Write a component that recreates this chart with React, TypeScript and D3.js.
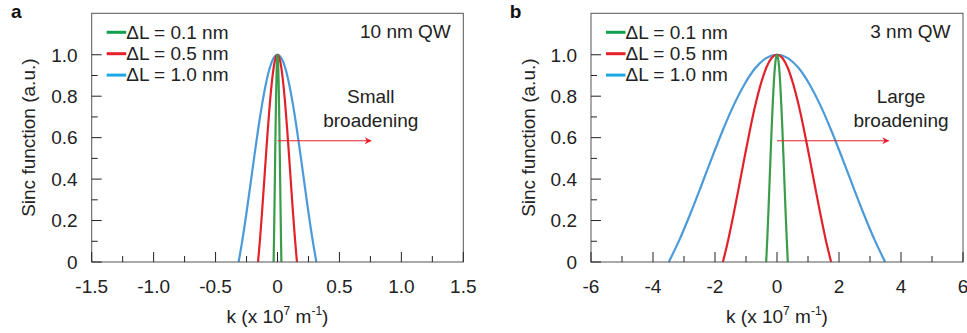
import React from "react";
import * as d3 from "d3";

// Normalised main-lobe profile of the sinc function (position within lobe, value)
const PROFILE_POS = [-1, -0.9, -0.8, -0.7, -0.6, -0.5, -0.4, -0.3, -0.2, -0.1, 0, 0.1, 0.2, 0.3, 0.4, 0.5, 0.6, 0.7, 0.8, 0.9, 1];
const PROFILE_VAL = [0, 0.109, 0.234, 0.368, 0.505, 0.637, 0.757, 0.858, 0.936, 0.984, 1, 0.984, 0.936, 0.858, 0.757, 0.637, 0.505, 0.368, 0.234, 0.109, 0];

const SERIES_LABELS = ["ΔL = 0.1 nm", "ΔL = 0.5 nm", "ΔL = 1.0 nm"];
const CURVE_COLORS = ["#3b9c4b", "#e2222a", "#4b9ad9"];
const LEGEND_COLORS = ["#10a04e", "#e8202a", "#1aa8e6"];

// Half widths of the main lobe (x 10^7 m^-1)
const HALF_WIDTH_10NM = [0.0314, 0.157, 0.314];
const HALF_WIDTH_3NM = [0.349, 1.745, 3.49];

const X_MAJOR_A = [-1.5, -1.0, -0.5, 0, 0.5, 1.0, 1.5];
const X_LABELS_A = ["-1.5", "-1.0", "-0.5", "0", "0.5", "1.0", "1.5"];
const X_MINOR_A = [-1.25, -0.75, -0.25, 0.25, 0.75, 1.25];
const X_MAJOR_B = [-6, -4, -2, 0, 2, 4, 6];
const X_LABELS_B = ["-6", "-4", "-2", "0", "2", "4", "6"];
const X_MINOR_B = [-5, -3, -1, 1, 3, 5];
const Y_MAJOR = [0, 0.2, 0.4, 0.6, 0.8, 1.0];
const Y_LABELS = ["0", "0.2", "0.4", "0.6", "0.8", "1.0"];
const Y_MINOR = [0.1, 0.3, 0.5, 0.7, 0.9];

const FONT = "'Liberation Sans', Arial, Helvetica, sans-serif";
const TEXT = "#222";
const AXIS = "#555";

type PanelProps = {
  letter: string;
  letterX: number;
  left: number;
  right: number;
  xDomain: [number, number];
  xMajor: number[];
  xLabels: string[];
  xMinor: number[];
  halfWidths: number[];
  qwLabel: string;
  noteLines: string[];
  noteX: number;
  arrowEnd: number;
  arrowY: number;
};

function Panel(p: PanelProps) {
  const top = 13.3;
  const bottom = 262;
  const x = d3.scaleLinear().domain(p.xDomain).range([p.left, p.right]);
  const y = d3.scaleLinear().domain([0, 1.2]).range([bottom, top]);
  const line = d3
    .line<[number, number]>()
    .x((d) => x(d[0]))
    .y((d) => y(d[1]))
    .curve(d3.curveMonotoneX);
  const order = [2, 1, 0];
  const cx = (p.left + p.right) / 2;
  const cy = (top + bottom) / 2;
  const mid = `arrow-${p.letter}`;
  return (
    <g fontFamily={FONT}>
      <defs>
        <marker id={mid} viewBox="0 0 10 10" refX="9" refY="5" markerWidth="8" markerHeight="7" markerUnits="userSpaceOnUse" orient="auto">
          <path d="M0,0 L10,5 L0,10 L3,5 z" fill="#e8202a" />
        </marker>
      </defs>
      <text x={p.letterX} y={18} fontSize={19} fontWeight="bold" fill="#111">
        {p.letter}
      </text>
      {/* curves */}
      {order.map((i) => {
        const pts: [number, number][] = PROFILE_POS.map((u, j) => [u * p.halfWidths[i], PROFILE_VAL[j]]);
        return <path key={i} d={line(pts) || ""} fill="none" stroke={CURVE_COLORS[i]} strokeWidth={2.2} />;
      })}
      {/* frame */}
      <rect x={p.left} y={top} width={p.right - p.left} height={bottom - top} fill="none" stroke={AXIS} strokeWidth={1} />
      {/* y ticks */}
      {Y_MAJOR.map((v, i) => (
        <g key={"ym" + i}>
          <line x1={p.left} x2={p.left + 10} y1={y(v)} y2={y(v)} stroke={TEXT} strokeWidth={1} />
          <text x={p.left - 14} y={y(v)} dy="0.36em" textAnchor="end" fontSize={19} fill={TEXT}>
            {Y_LABELS[i]}
          </text>
        </g>
      ))}
      {Y_MINOR.map((v, i) => (
        <line key={"yn" + i} x1={p.left} x2={p.left + 6} y1={y(v)} y2={y(v)} stroke={TEXT} strokeWidth={1} />
      ))}
      {/* x ticks */}
      {p.xMajor.map((v, i) => (
        <g key={"xm" + i}>
          <line x1={x(v)} x2={x(v)} y1={bottom} y2={bottom - 10} stroke={TEXT} strokeWidth={1} />
          <text x={x(v)} y={bottom + 30.5} textAnchor="middle" fontSize={19} fill={TEXT}>
            {p.xLabels[i]}
          </text>
        </g>
      ))}
      {p.xMinor.map((v, i) => (
        <line key={"xn" + i} x1={x(v)} x2={x(v)} y1={bottom} y2={bottom - 6} stroke={TEXT} strokeWidth={1} />
      ))}
      {/* axis titles */}
      <text x={cx} y={323.3} textAnchor="middle" fontSize={19} fill={TEXT}>
        k (x 10<tspan dy={-8} fontSize={12}>7</tspan>
        <tspan dy={8}> m</tspan>
        <tspan dy={-8} fontSize={12}>-1</tspan>
        <tspan dy={8}>)</tspan>
      </text>
      <text transform={`translate(${p.left - 56.5},${cy}) rotate(-90)`} textAnchor="middle" fontSize={19} fill={TEXT}>
        Sinc function (a.u.)
      </text>
      {/* legend */}
      {SERIES_LABELS.map((s, i) => {
        const ly = 32.3 + i * 21.4;
        return (
          <g key={"lg" + i}>
            <line x1={p.left + 15} x2={p.left + 34.5} y1={ly} y2={ly} stroke={LEGEND_COLORS[i]} strokeWidth={3} />
            <text x={p.left + 34.5} y={ly + 6.2} fontSize={19} fill={TEXT}>
              {s}
            </text>
          </g>
        );
      })}
      <text x={p.right - 12.5} y={38.3} textAnchor="end" fontSize={19} fill={TEXT}>
        {p.qwLabel}
      </text>
      {/* annotation */}
      {p.noteLines.map((t, i) => (
        <text key={"nt" + i} x={x(p.noteX)} y={103.3 + i * 23.8} textAnchor="middle" fontSize={19} fill={TEXT}>
          {t}
        </text>
      ))}
      <line x1={x(0)} x2={x(p.arrowEnd)} y1={y(p.arrowY)} y2={y(p.arrowY)} stroke="#e8202a" strokeWidth={1.2} markerEnd={`url(#${mid})`} />
    </g>
  );
}

export default function App() {
  return (
    <svg width={967} height={333} style={{ position: "absolute", left: 0, top: 0, background: "#fff" }}>
      <rect x={0} y={0} width={967} height={333} fill="#fff" />
      <Panel
        letter="a"
        letterX={11}
        left={91.7}
        right={463.3}
        xDomain={[-1.5, 1.5]}
        xMajor={X_MAJOR_A}
        xLabels={X_LABELS_A}
        xMinor={X_MINOR_A}
        halfWidths={HALF_WIDTH_10NM}
        qwLabel="10 nm QW"
        noteLines={["Small", "broadening"]}
        noteX={0.753}
        arrowEnd={0.755}
        arrowY={0.585}
      />
      <Panel
        letter="b"
        letterX={509.7}
        left={591}
        right={963}
        xDomain={[-6, 6]}
        xMajor={X_MAJOR_B}
        xLabels={X_LABELS_B}
        xMinor={X_MINOR_B}
        halfWidths={HALF_WIDTH_3NM}
        qwLabel="3 nm QW"
        noteLines={["Large", "broadening"]}
        noteX={4.0}
        arrowEnd={3.6}
        arrowY={0.585}
      />
    </svg>
  );
}
